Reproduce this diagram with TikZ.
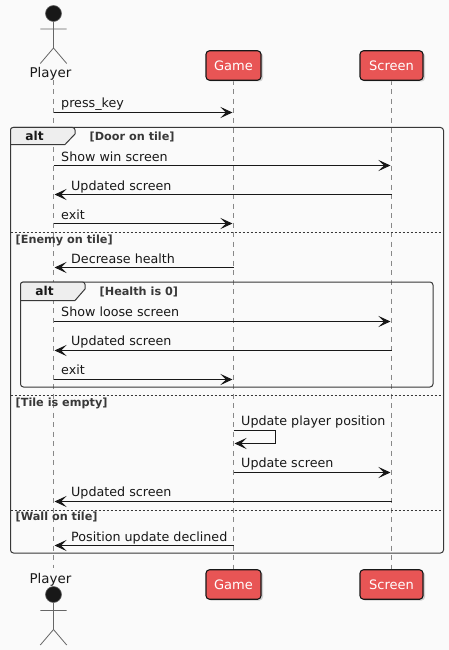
\documentclass[tikz,border=0pt]{standalone}
\usepackage{fontspec}
\setmainfont{DejaVu Sans}
\usetikzlibrary{arrows.meta}
\definecolor{ink}{HTML}{181818}
\definecolor{bgc}{HTML}{FAFAFA}
\definecolor{redbox}{HTML}{E85555}
\definecolor{life}{HTML}{888888}
\definecolor{frm}{HTML}{383838}
\definecolor{tabc}{HTML}{EEEEEE}
\definecolor{actorline}{HTML}{666666}
\tikzset{
  x=1pt,y=-1pt,
  msg/.style={draw=ink,line width=1.05pt,-{Stealth[length=12pt,width=11pt,inset=5.5pt]}},
  msgtxt/.style={anchor=base west,inner sep=0,font=\fontsize{12.7}{14}\selectfont,text=ink},
  lifeline/.style={draw=life,line width=.7pt,dash pattern=on 5pt off 4.5pt},
  partbox/.style={draw=ink,line width=1.1pt,fill=redbox,rounded corners=3.5pt,text=white,inner sep=0,font=\fontsize{13}{14}\selectfont},
  shadowbox/.style={draw=none,fill=black!18,rounded corners=3.5pt},
  frameb/.style={draw=frm,line width=1pt,rounded corners=3pt},
  tabshape/.style={draw=frm,line width=1pt,fill=tabc},
  septr/.style={draw=frm,line width=.7pt,dash pattern=on 2pt off 2pt},
  guard/.style={anchor=base west,inner sep=0,font=\fontsize{11.25}{12}\selectfont\bfseries,text=frm},
  alttxt/.style={anchor=base,inner sep=0,font=\fontsize{12.2}{14}\selectfont\bfseries,text=ink},
  actortxt/.style={anchor=base,inner sep=0,font=\fontsize{13.4}{15}\selectfont,text=ink},
  limb/.style={draw=actorline,line width=.8pt},
  head/.style={draw=actorline,line width=.6pt,fill=ink,circle,minimum size=16pt,inner sep=0},
}
\begin{document}
\begin{tikzpicture}
\useasboundingbox[fill=bgc] (0,0) rectangle (449,650);
% named anchors
\coordinate (pT) at (53.5,80); \coordinate (pB) at (53.5,568);
\coordinate (gT) at (233.5,80); \coordinate (gB) at (233.5,570);
\coordinate (sT) at (391.5,80); \coordinate (sB) at (391.5,570);
% lifelines
\draw[lifeline] (pT) -- (pB);
\draw[lifeline] (gT) -- (gB);
\draw[lifeline] (sT) -- (sB);
% outer and inner frames
\draw[frameb] (10.5,127.5) rectangle (443.5,553);
\draw[frameb] (20.5,282) rectangle (433,387);
\draw[tabshape] (75,127.5) -- (75,134) -- (65,144.5) -- (10.5,144.5) -- (10.5,130) [rounded corners=2.5pt] -- (10.5,127.5) -- cycle;
\draw[tabshape] (85,282) -- (85,289) -- (75,300.5) -- (20.5,300.5) -- (20.5,285) [rounded corners=2.5pt] -- (20.5,282) -- cycle;
\node[alttxt] (alt1) at (34.5,140) {alt};
\node[alttxt] (alt2) at (44.5,295) {alt};
\node[guard] (g1) at (89.5,140) {[Door on tile]};
\node[guard] (g2) at (99.5,295) {[Health is 0]};
\node[guard] (g3) at (15.5,243) {[Enemy on tile]};
\node[guard] (g4) at (15.5,406) {[Tile is empty]};
\node[guard] (g5) at (15.5,520.5) {[Wall on tile]};
\draw[septr] (10.5,232.5) -- (443.5,232.5);
\draw[septr] (10.5,395.5) -- (443.5,395.5);
\draw[septr] (10.5,510.5) -- (443.5,510.5);
% participants
\fill[shadowbox] (207.5,52.5) rectangle (263,81.5);
\fill[shadowbox] (361.5,52.5) rectangle (425,81.5);
\fill[shadowbox] (207.5,571.5) rectangle (263,600.5);
\fill[shadowbox] (361.5,571.5) rectangle (425,600.5);
\node[partbox,minimum width=55pt,minimum height=29.5pt] (gameT) at (233.5,65.5) {Game};
\node[partbox,minimum width=63pt,minimum height=29.5pt] (screenT) at (391.5,65.5) {Screen};
\node[partbox,minimum width=55pt,minimum height=29.5pt] (gameB) at (233.5,584.5) {Game};
\node[partbox,minimum width=63pt,minimum height=29.5pt] (screenB) at (391.5,584.5) {Screen};
% actors
\node[head] (headT) at (53.5,13.5) {};
\draw[limb] (headT.south) -- (53.5,48) (40.3,29) -- (66.7,29) (40.3,63.5) -- (53.5,48) -- (66.7,63.5);
\node[actortxt] (playerT) at (50.5,78) {Player};
\node[actortxt] (playerB) at (50.5,583) {Player};
\node[head] (headB) at (53.5,594.5) {};
\draw[limb] (headB.south) -- (53.5,629.5) (40.3,610.5) -- (66.7,610.5) (40.3,645) -- (53.5,629.5) -- (66.7,645);
% message ends
\foreach \n/\y in {a/112.5,b/165.5,c/194.5,d/223.5,e/267.5,f/321.5,g/350.5,h/379.5,j/472.5,k/501.5,l/545.5}{
  \coordinate (p\n) at (53.5,\y);
  \coordinate (g\n) at (232.5,\y);
  \coordinate (s\n) at (390.5,\y);
}
\coordinate (gself1) at (233.5,430.5); \coordinate (sr1) at (275.5,430.5);
\coordinate (sr2) at (275.5,443.5); \coordinate (gself2) at (234.5,443.5);
% messages
\draw[msg] (pa) -- (ga);
\draw[msg] (pb) -- (sb);
\draw[msg] (391.5,194.5) -- (54.5,194.5);
\draw[msg] (pd) -- (gd);
\draw[msg] (233.5,267.5) -- (54.5,267.5);
\draw[msg] (pf) -- (sf);
\draw[msg] (391.5,350.5) -- (54.5,350.5);
\draw[msg] (ph) -- (gh);
\draw[draw=ink,line width=1.05pt] (gself1) -- (sr1) -- (sr2);
\draw[msg] (sr2) -- (gself2);
\draw[msg] (233.5,472.5) -- (sj);
\draw[msg] (391.5,501.5) -- (54.5,501.5);
\draw[msg] (233.5,545.5) -- (54.5,545.5);
% labels
\node[msgtxt] at (61,107.5) {press\_key};
\node[msgtxt] at (61,161) {Show win screen};
\node[msgtxt] at (71,190) {Updated screen};
\node[msgtxt] at (61,219) {exit};
\node[msgtxt] at (71,263) {Decrease health};
\node[msgtxt] at (61,316.5) {Show loose screen};
\node[msgtxt] at (71,345.5) {Updated screen};
\node[msgtxt] at (61,374.5) {exit};
\node[msgtxt] at (241,425.5) {Update player position};
\node[msgtxt] at (241,467.5) {Update screen};
\node[msgtxt] at (71,496.5) {Updated screen};
\node[msgtxt] at (71,541) {Position update declined};
\end{tikzpicture}
\end{document}
